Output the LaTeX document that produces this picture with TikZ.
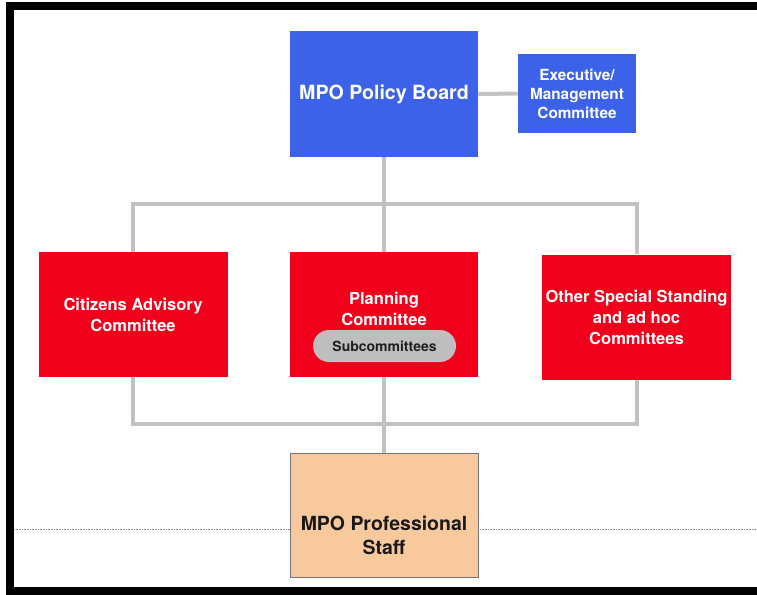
\documentclass[tikz,border=0pt]{standalone}
\usepackage{fontspec}
\setmainfont{TeX Gyre Heros}
\definecolor{boardblue}{HTML}{3B62E8}
\definecolor{cmtred}{HTML}{F0001A}
\definecolor{staffpeach}{HTML}{F8C99C}
\definecolor{linkgray}{HTML}{C2C2C2}
\definecolor{pillgray}{HTML}{BEBEBE}

\begin{document}
\begin{tikzpicture}[x=0.75pt, y=-0.75pt,
  box/.style={rectangle, inner sep=0pt, align=center, text=white},
  bluebox/.style={box, fill=boardblue},
  redbox/.style={box, fill=cmtred, minimum width=141.75pt, minimum height=93.75pt,
    font=\fontsize{12.4}{15.75}\selectfont\bfseries},
  link/.style={linkgray, line width=3pt},
  dotline/.style={black!45, line width=0.6pt, dash pattern=on 0.8pt off 0.4pt}]
\useasboundingbox (0,0) rectangle (757,594);
% frame, open on the right
\draw[line width=6pt] (757,6) -- (10,6) -- (10,590.5) -- (757,590.5);
% boxes
\node[bluebox, minimum width=141pt, minimum height=94.5pt,
  font=\fontsize{14.7}{17.6}\selectfont\bfseries] (board) at (384,94) {MPO Policy Board};
\node[bluebox, minimum width=88.5pt, minimum height=59.25pt,
  font=\fontsize{11.5}{14.25}\selectfont\bfseries] (exec) at (577,93.5) {Executive/\\Management\\Committee};
\node[redbox] (cac) at (133,314.5) {Citizens Advisory\\Committee};
\node[redbox, minimum width=141pt] (plan) at (384,314.5) {};
\node[box, font=\fontsize{12.4}{15.75}\selectfont\bfseries] (plantxt) at (384,309) {Planning\\Committee};
\node[box, fill=pillgray, text=black!88, minimum width=107.25pt, minimum height=24pt, rounded corners=12pt,
  font=\fontsize{10.5}{12.6}\selectfont\bfseries] (sub) at (384.5,346) {Subcommittees};
\node[redbox] (other) at (636.5,317) {Other Special Standing\\and ad hoc\\Committees};
\node[box, fill=staffpeach, draw=black!55, line width=0.5pt, minimum width=141pt, minimum height=93pt] (staff) at (384,515) {};
\node[box, text=black!90, font=\fontsize{14.6}{18}\selectfont\bfseries] (stafftxt) at (384,535) {MPO Professional\\Staff};
% bus points
\coordinate (topbus) at (384,204);
\coordinate (lowbus) at (384,424);
\coordinate (dotL) at (14,529);
\coordinate (dotR) at (757,529);
% connectors
\draw[link] (board.east) -- (exec.west);
\draw[link] (board.south) -- (plan.north);
\draw[link] (cac.north) |- (topbus) -| (other.north);
\draw[link] (cac.south) |- (lowbus) -| (other.south);
\draw[link] (plan.south) -- (staff.north);
% dotted line beside staff box
\draw[dotline] (dotL) -- (dotL -| staff.west);
\draw[dotline] (dotL -| staff.east) -- (dotR);
\end{tikzpicture}
\end{document}
